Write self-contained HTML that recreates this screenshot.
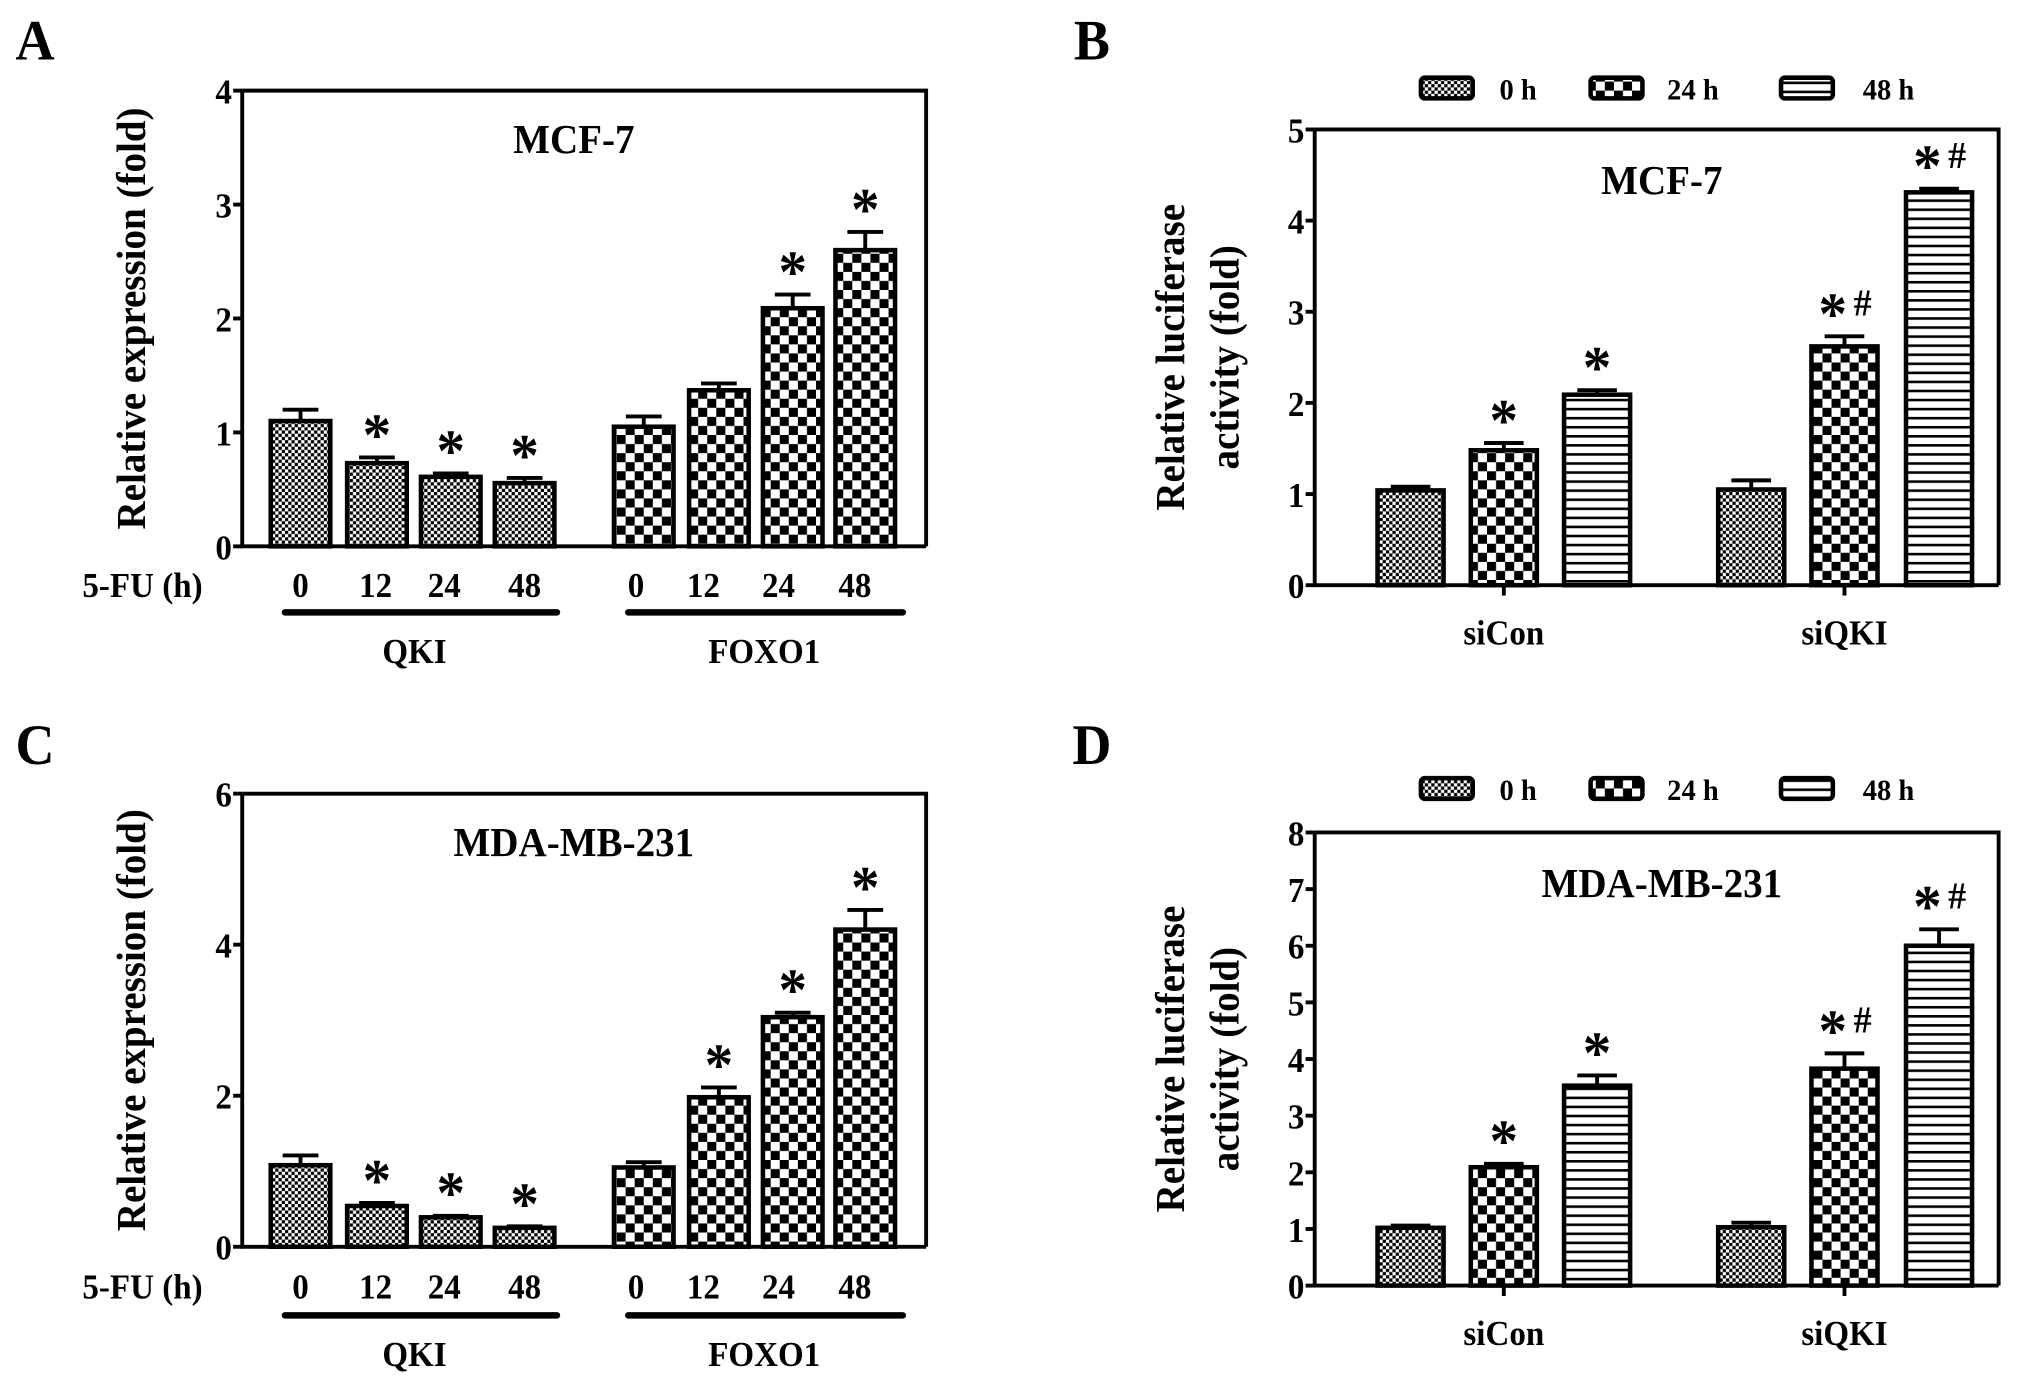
<!DOCTYPE html>
<html><head><meta charset="utf-8"><style>
html,body{margin:0;padding:0;background:#fff;}
svg{display:block;font-family:"Liberation Serif",serif;font-weight:bold;}
</style></head><body>
<svg id="fig" width="2031" height="1384" viewBox="0 0 1568 1069" preserveAspectRatio="none" xmlns="http://www.w3.org/2000/svg">
<defs>
<pattern id="fine" width="5" height="5" patternUnits="userSpaceOnUse"><rect width="5" height="5" fill="#fff"/><rect width="2.5" height="2.5" fill="#000"/><rect x="2.5" y="2.5" width="2.5" height="2.5" fill="#000"/></pattern>
<pattern id="coarse" width="14" height="14" patternUnits="userSpaceOnUse"><rect width="14" height="14" fill="#fff"/><rect width="7" height="7" fill="#000"/><rect x="7" y="7" width="7" height="7" fill="#000"/></pattern>
<pattern id="stripe" width="8" height="7" patternUnits="userSpaceOnUse"><rect width="8" height="7" fill="#fff"/><rect y="0" width="8" height="2" fill="#000"/></pattern>
</defs>
<g id="root"></g>
</svg>
<script>
// Panel A data (MCF-7 expression)
const aCategories = ["0","12","24","48","0","12","24","48"];
const aValues = [1.10,0.73,0.61,0.555,1.05,1.37,2.09,2.60];
const aErrors = [0.10,0.05,0.03,0.045,0.09,0.06,0.12,0.16];
const aStars = ["","*","*","*","","","*","*"];
const aTicks = ["0","1","2","3","4"];
// Panel C data (MDA-MB-231 expression)
const cValues = [1.08,0.54,0.39,0.25,1.05,1.98,3.04,4.20];
const cErrors = [0.13,0.04,0.02,0.02,0.07,0.13,0.06,0.26];
const cStars = ["","*","*","*","","*","*","*"];
const cTicks = ["0","2","4","6"];
// Panel B data (MCF-7 luciferase)
const bGroups = ["siCon","siQKI"];
const legendLabels = ["0 h","24 h","48 h"];
const bValues = [1.04,1.48,2.09,1.05,2.62,4.31];
const bErrors = [0.04,0.08,0.05,0.10,0.11,0.04];
const bStars = ["","*","*","","*#","*#"];
const bTicks = ["0","1","2","3","4","5"];
// Panel D data (MDA-MB-231 luciferase)
const dValues = [1.02,2.09,3.53,1.03,3.83,6.00];
const dErrors = [0.04,0.06,0.18,0.08,0.27,0.29];
const dStars = ["","*","*","","*#","*#"];
const dTicks = ["0","1","2","3","4","5","6","7","8"];

const NS="http://www.w3.org/2000/svg";
const root=document.getElementById('root');
function mk(tag,attrs,parent){const e=document.createElementNS(NS,tag);for(const k in attrs)e.setAttribute(k,attrs[k]);(parent||root).appendChild(e);return e;}
function txt(s,x,y,size,anchor,parent,rot){
  const t=mk('text',{x:0,y:0,'font-size':size,'text-anchor':anchor||'middle'},parent);
  t.setAttribute('transform',`translate(${x},${y})`+(rot?' rotate(-90)':'')+' scale(1.16,1.22)');
  t.textContent=s;return t;}

function axes(g,x0,x1,yTop,yBot,ticks){
  const n=ticks.length-1;
  mk('path',{d:`M${x0},${yTop} H${x1} V${yBot} M${x0},${yTop} V${yBot} H${x1}`,fill:'none',stroke:'#000','stroke-width':3},g);
  ticks.forEach((t,i)=>{const y=yBot-(yBot-yTop)*i/n;
    mk('line',{x1:x0-7,x2:x0,y1:y,y2:y,stroke:'#000','stroke-width':3},g);
    const l=txt(t,x0-8,y+10,22,'end',g);
    
    
  });
  const max=parseFloat(ticks[n]);
  return v=>yBot-(yBot-yTop)*v/max;
}
function bar(g,cx,w,v,err,fill,star,ys,yBot,name){
  const bg=mk('g',{},g);
  
  
  const yt=ys(v), ye=ys(v+err);
  mk('line',{x1:cx,x2:cx,y1:ye,y2:yt,stroke:'#000','stroke-width':3},bg);
  mk('line',{x1:cx-w*0.3,x2:cx+w*0.3,y1:ye,y2:ye,stroke:'#000','stroke-width':3},bg);
  mk('rect',{x:cx-w/2,y:yt,width:w,height:yBot-yt,fill:`url(#${fill})`,stroke:'#000','stroke-width':3.5},bg);
  if(star){
    if(star.length>1){
      const s=txt('*',cx-9,ye-2,38,'middle',bg);
      
      
      const h=txt('#',cx+14,ye-16,24,'middle',bg);
      
      
    } else {
      const s=txt(star,cx,ye-2,38,'middle',bg);
      
      
    }
  }
}
function panelExpr(yTop,yBot,ticks,vals,errs,stars,title,letter,letY,labY,lineY,grpY,key){
  const g=mk('g',{});
  
  
  const L=txt(letter,27,letY,36,'middle',g);
  
  
  const ys=axes(g,187,715,yTop,yBot,ticks);
  const T=txt(title,443,yTop+48,26,'middle',g);
  
  
  const yl=txt('Relative expression (fold)',112,(yTop+yBot)/2,26,'middle',g,true);
  
  
  const centers=[232,291,348,405,497,555,612,668];
  const labX=[232,290,343,405,491,543,601,660];
  vals.forEach((v,i)=>bar(g,centers[i],46,v,errs[i],i<4?'fine':'coarse',stars[i],ys,yBot,'bar-'+(i<4?'qki-':'foxo1-')+aCategories[i]));
  const fu=txt('5-FU (h)',110,labY,22,'middle',g);
  
  
  aCategories.forEach((c,i)=>{const t=txt(c,labX[i],labY,22,'middle',g);
    
    });
  mk('line',{x1:220,x2:430,y1:lineY,y2:lineY,stroke:'#000','stroke-width':5,'stroke-linecap':'round'},g);
  mk('line',{x1:485,x2:697,y1:lineY,y2:lineY,stroke:'#000','stroke-width':5,'stroke-linecap':'round'},g);
  const q=txt('QKI',320,grpY,22,'middle',g);
  
  
  const f=txt('FOXO1',590,grpY,22,'middle',g);
  
  
}
function panelLuc(yTop,yBot,ticks,vals,errs,stars,title,letter,letY,legY,key){
  const g=mk('g',{});
  
  
  const L=txt(letter,843,letY,36,'middle',g);
  
  
  const fills=['fine','coarse','stripe'];
  const sx=[1097,1228,1375], lx=[1172,1307,1458];
  legendLabels.forEach((lab,i)=>{
    const lg=mk('g',{},g);
    
    
    mk('rect',{x:sx[i],y:legY-8,width:40,height:16,rx:3,fill:`url(#${fills[i]})`,stroke:'#000','stroke-width':3.5},lg);
    txt(lab,lx[i],legY+9,19,'middle',lg);
  });
  const ys=axes(g,1015,1543,yTop,yBot,ticks);
  const T=txt(title,1283,yTop+50,26,'middle',g);
  
  
  const yc=(yTop+yBot)/2;
  const y1=txt('Relative luciferase',914,yc,26,'middle',g,true);
  
  
  const y2=txt('activity (fold)',956,yc,26,'middle',g,true);
  
  
  const centers=[1089,1161,1233,1352,1424,1497];
  vals.forEach((v,i)=>bar(g,centers[i],51,v,errs[i],fills[i%3],stars[i],ys,yBot,'bar-'+bGroups[Math.floor(i/3)]+'-'+legendLabels[i%3].replace(' ','')));
  [1161,1424].forEach((cx,i)=>{
    mk('line',{x1:cx,x2:cx,y1:yBot,y2:yBot+8,stroke:'#000','stroke-width':3},g);
    const t=txt(bGroups[i],cx,yBot+46,22,'middle',g);
    
    
  });
}
panelExpr(70,422,aTicks,aValues,aErrors,aStars,'MCF-7','A',46,461,473,512,'a');
panelLuc(100,452,bTicks,bValues,bErrors,bStars,'MCF-7','B',46,68,'b');
panelExpr(613,963,cTicks,cValues,cErrors,cStars,'MDA-MB-231','C',590,1003,1016,1055,'c');
panelLuc(643,993,dTicks,dValues,dErrors,dStars,'MDA-MB-231','D',590,609,'d');
</script>
</body></html>
